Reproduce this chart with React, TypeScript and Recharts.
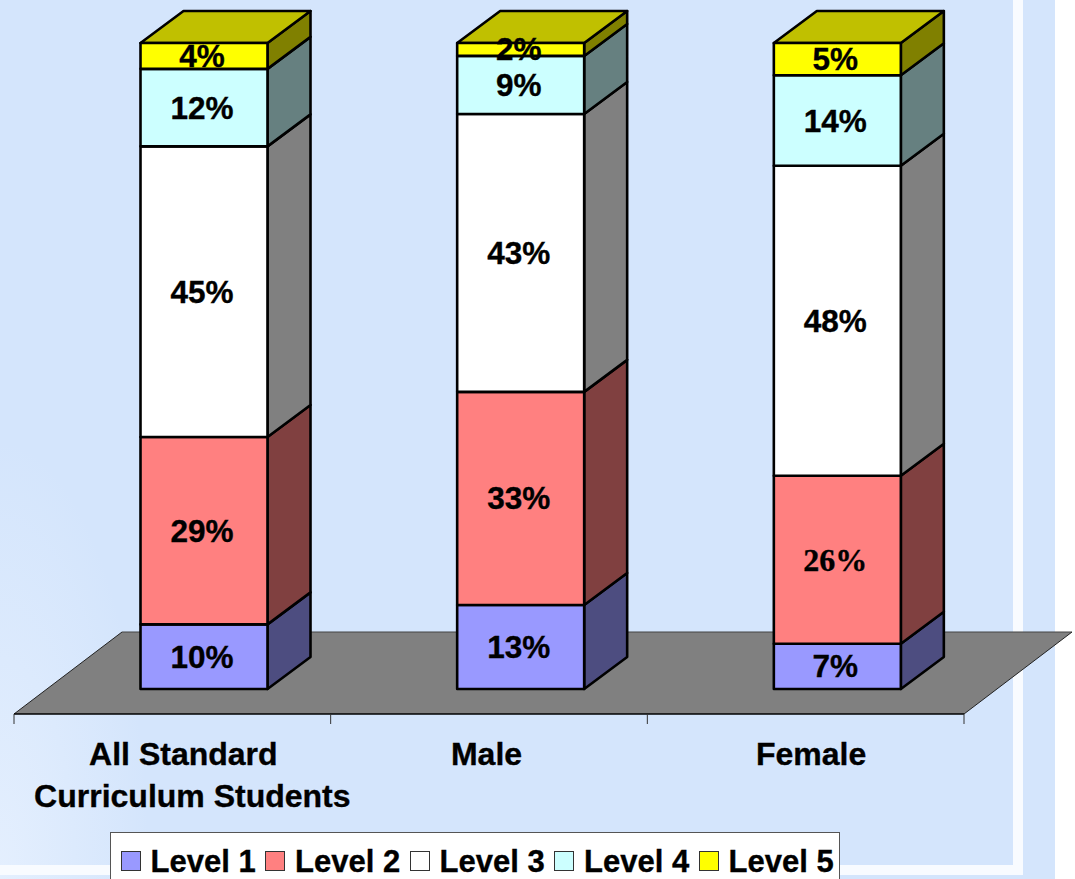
import React from 'react';
import { BarChart, Bar, XAxis, YAxis, Legend, LabelList, ReferenceArea } from 'recharts';

// Share of students at each achievement level, in percent.
const categories = ['All Standard Curriculum Students', 'Male', 'Female'];
const level1 = [10, 13, 7];
const level2 = [29, 33, 26];
const level3 = [45, 43, 48];
const level4 = [12, 9, 14];
const level5 = [4, 2, 5];

const tickLines = [['All Standard', 'Curriculum Students'], ['Male'], ['Female']];
const tickLineShift = [[-20.5, -11.5], [-34], [-26]];

const FRONT_COLORS = ['#9999FF', '#FF8080', '#FFFFFF', '#CCFFFF', '#FFFF00'];
const SIDE_COLORS = ['#4D4D80', '#804040', '#808080', '#668080', '#808000'];
const TOP_COLOR = '#C0C000';
const FLOOR_COLOR = '#808080';
const PAGE_BLUE = '#D4E5FC';
const SANS = '"Liberation Sans", Arial, sans-serif';
const SERIF = '"Liberation Serif", "Times New Roman", serif';

const DEPTH_X = 43;
const DEPTH_Y = 32;

const seriesNames = ['Level 1', 'Level 2', 'Level 3', 'Level 4', 'Level 5'];
const seriesValues = [level1, level2, level3, level4, level5];

const rows = categories.map((name, i) => {
  const row: Record<string, string | number> = { name };
  seriesNames.forEach((s, k) => {
    row[s] = seriesValues[k][i];
  });
  return row;
});

// One stacked segment as a box: front face, right side, and a lid on the top segment.
function boxShape(seriesIndex: number) {
  return (props: any) => {
    const { x, y, width, height } = props;
    const r = x + width;
    const b = y + height;
    const stroke = { stroke: '#000', strokeWidth: 2.6, strokeLinejoin: 'round' as const };
    return (
      <g>
        <polygon
          points={`${r},${y} ${r + DEPTH_X},${y - DEPTH_Y} ${r + DEPTH_X},${b - DEPTH_Y} ${r},${b}`}
          fill={SIDE_COLORS[seriesIndex]}
          {...stroke}
        />
        {seriesIndex === seriesNames.length - 1 && (
          <polygon
            points={`${x},${y} ${x + DEPTH_X},${y - DEPTH_Y} ${r + DEPTH_X},${y - DEPTH_Y} ${r},${y}`}
            fill={TOP_COLOR}
            {...stroke}
          />
        )}
        <rect x={x} y={y} width={width} height={height} fill={FRONT_COLORS[seriesIndex]} {...stroke} />
      </g>
    );
  };
}

// The grey floor the columns stand on, with its tick marks along the front edge.
function FloorShape(props: any) {
  const { x, y, width } = props;
  const frontY = y + 25;
  const backY = y - 57;
  const frontL = x - 31.5;
  const frontR = x + width - 31.5;
  const skewX = 108;
  const step = (frontR - frontL) / categories.length;
  const tickXs = [0, 1, 2, 3].map((i) => frontL + i * step);
  return (
    <g>
      <polygon
        points={`${frontL},${frontY} ${frontL + skewX},${backY} ${frontR + skewX},${backY} ${frontR},${frontY}`}
        fill={FLOOR_COLOR}
        stroke="none"
      />
      <line x1={frontL + skewX} y1={backY} x2={frontR + skewX} y2={backY} stroke="#444" strokeWidth={1} />
      <line x1={frontL} y1={frontY} x2={frontL + skewX} y2={backY} stroke="#222" strokeWidth={1} />
      <line x1={frontR} y1={frontY} x2={frontR + skewX} y2={backY} stroke="#222" strokeWidth={1} />
      <line x1={frontL} y1={frontY} x2={frontR} y2={frontY} stroke="#000" strokeWidth={1.4} />
      {tickXs.map((tx) => (
        <line key={tx} x1={tx} y1={frontY} x2={tx} y2={frontY + 10} stroke="#333" strokeWidth={1} />
      ))}
    </g>
  );
}

function CategoryTick(props: any) {
  const { x, payload } = props;
  const lines = tickLines[payload.index];
  return (
    <g>
      {lines.map((line, i) => (
        <text
          key={line}
          x={x + tickLineShift[payload.index][i]}
          y={765 + i * 42}
          textAnchor="middle"
          fontFamily={SANS}
          fontWeight={700}
          fontSize={32}
          fill="#000"
          stroke="#000"
          strokeWidth={0.35}
        >
          {line}
        </text>
      ))}
    </g>
  );
}

function valueLabel(seriesIndex: number) {
  return (props: any) => {
    const { x, y, width, height, value, index } = props;
    // The Female / Level 2 figure is set in a serif face.
    const serif = seriesIndex === 1 && index === 2;
    return (
      <text
        x={x + width / 2 - 2}
        y={y + height / 2 + 11}
        textAnchor="middle"
        fontFamily={serif ? SERIF : SANS}
        fontWeight={700}
        fontSize={serif ? 32 : 31.5}
        fill="#000"
        stroke="#000"
        strokeWidth={0.35}
      >
        {`${value}%`}
      </text>
    );
  };
}

function LegendBox() {
  return (
    <div
      style={{
        boxSizing: 'border-box',
        width: 730,
        height: 60,
        background: '#fff',
        border: '1px solid #555',
        display: 'flex',
        alignItems: 'flex-start',
        paddingLeft: 10,
        fontFamily: SANS,
        fontWeight: 700,
        fontSize: 31,
        color: '#000',
        WebkitTextStroke: '0.35px #000',
      }}
    >
      {seriesNames.map((name, i) => (
        <div key={name} style={{ display: 'flex', alignItems: 'flex-start', width: 144.5, flex: 'none' }}>
          <span
            style={{
              boxSizing: 'border-box',
              width: 20,
              height: 20,
              marginTop: 18,
              background: FRONT_COLORS[i],
              border: '1.5px solid #333',
              flex: 'none',
            }}
          />
          <span style={{ marginLeft: 10, lineHeight: '36px', marginTop: 11, whiteSpace: 'nowrap' }}>{name}</span>
        </div>
      ))}
    </div>
  );
}

const frame = (style: React.CSSProperties) => <div style={{ position: 'absolute', ...style }} />;

export default function App() {
  return (
    <div
      style={{
        position: 'absolute',
        left: 0,
        top: 0,
        width: 1075,
        height: 879,
        overflow: 'hidden',
        background: PAGE_BLUE,
      }}
    >
      {frame({
        left: 0,
        top: 400,
        width: 200,
        height: 479,
        background: 'radial-gradient(ellipse 150px 440px at 0 100%, #E4EFFE 0%, rgba(212,229,252,0) 100%)',
      })}
      {frame({ left: 1055, top: 0, width: 20, height: 879, background: '#fff' })}
      {frame({ left: 1013, top: 0, width: 10, height: 875, background: '#F8FBFF' })}
      {frame({ left: 0, top: 865, width: 1023, height: 10, background: '#F8FBFF' })}
      <BarChart
        width={1075}
        height={879}
        data={rows}
        margin={{ top: 43, right: 79.5, bottom: 0, left: 45.5 }}
        style={{ position: 'absolute', left: 0, top: 0 }}
      >
        <XAxis dataKey="name" height={190} axisLine={false} tickLine={false} interval={0} tick={<CategoryTick />} />
        <YAxis hide domain={[0, 100]} width={0} />
        <ReferenceArea y1={0} y2={0} ifOverflow="visible" shape={<FloorShape />} />
        {seriesNames.map((name, i) => (
          <Bar
            key={name}
            dataKey={name}
            stackId="levels"
            barSize={127}
            isAnimationActive={false}
            fill={FRONT_COLORS[i]}
            shape={boxShape(i)}
          >
            <LabelList dataKey={name} content={valueLabel(i)} />
          </Bar>
        ))}
        <Legend
          layout="horizontal"
          verticalAlign="middle"
          align="center"
          content={<LegendBox />}
          wrapperStyle={{ left: 109.5, top: 832, width: 730, height: 60 }}
        />
      </BarChart>
    </div>
  );
}
